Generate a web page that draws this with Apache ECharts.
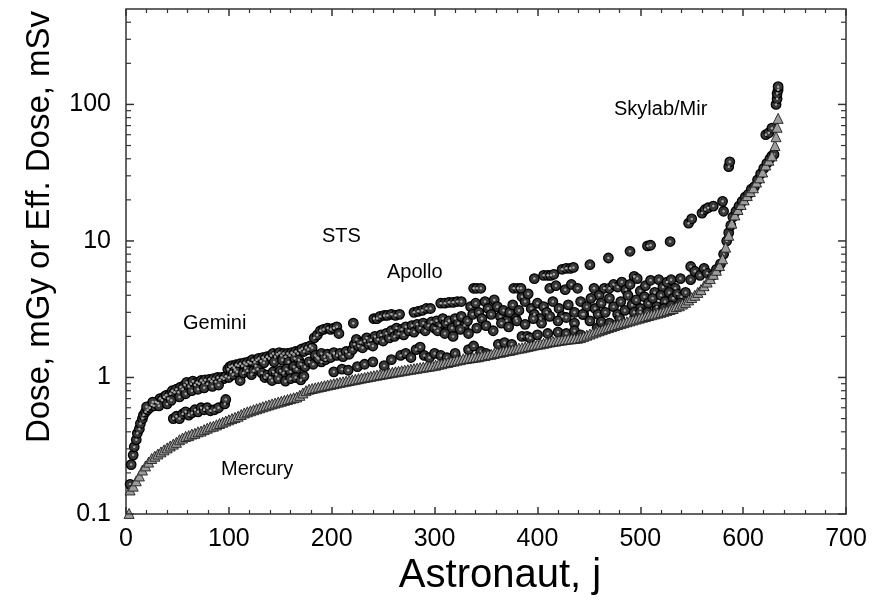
<!DOCTYPE html>
<html><head><meta charset="utf-8">
<script src="https://cdn.jsdelivr.net/npm/echarts@6/dist/echarts.min.js"></script>
<style>html,body{margin:0;padding:0;background:#fff}#c{width:872px;height:603px}</style>
</head><body><div id="c"></div>
<script>
// ---- data (astronaut index j, dose) ----
const effectiveDose = [[3,0.101],[4,0.15],[7,0.16],[10,0.175],[13,0.19],[16,0.21],[19,0.225],[22,0.24],[25,0.255],[28,0.265],[31,0.275],[34,0.285],[37,0.295],[40,0.305],[43,0.315],[46,0.325],[49,0.335],[52,0.35],[55,0.36],[58,0.37],[61,0.375],[64,0.385],[67,0.39],[70,0.40],[73,0.405],[76,0.415],[79,0.425],[82,0.435],[85,0.44],[88,0.45],[91,0.46],[94,0.47],[97,0.48],[100,0.49],[103,0.50],[106,0.51],[109,0.52],[112,0.535],[115,0.55],[118,0.56],[121,0.57],[124,0.58],[127,0.59],[130,0.60],[133,0.61],[136,0.62],[139,0.63],[142,0.64],[145,0.65],[148,0.66],[151,0.67],[154,0.68],[157,0.69],[160,0.70],[163,0.71],[166,0.72],[169,0.74],[172,0.77],[175,0.80],[178,0.82],[181,0.83],[184,0.84],[187,0.85],[190,0.86],[193,0.87],[196,0.88],[199,0.89],[202,0.90],[205,0.91],[208,0.92],[211,0.93],[214,0.94],[217,0.95],[220,0.96],[223,0.97],[226,0.98],[229,0.99],[232,1.0],[235,1.01],[238,1.02],[241,1.03],[244,1.04],[247,1.05],[250,1.06],[253,1.07],[256,1.08],[259,1.09],[262,1.10],[265,1.11],[268,1.12],[271,1.13],[274,1.14],[277,1.15],[280,1.16],[283,1.17],[286,1.18],[289,1.19],[292,1.20],[295,1.21],[298,1.22],[301,1.23],[304,1.25],[307,1.26],[310,1.28],[313,1.29],[316,1.31],[319,1.32],[322,1.34],[325,1.35],[328,1.37],[331,1.38],[334,1.39],[337,1.40],[340,1.41],[343,1.42],[346,1.44],[349,1.45],[352,1.47],[355,1.48],[358,1.50],[361,1.52],[364,1.53],[367,1.55],[370,1.57],[373,1.58],[376,1.60],[379,1.62],[382,1.64],[385,1.65],[388,1.67],[391,1.69],[394,1.71],[397,1.73],[400,1.75],[403,1.76],[406,1.78],[409,1.80],[412,1.82],[415,1.84],[418,1.85],[421,1.87],[424,1.88],[427,1.90],[430,1.91],[433,1.92],[436,1.93],[439,1.94],[442,1.96],[445,2.0],[448,2.04],[451,2.08],[454,2.12],[457,2.16],[460,2.2],[463,2.24],[466,2.28],[469,2.32],[472,2.36],[475,2.4],[478,2.44],[481,2.48],[484,2.52],[487,2.56],[490,2.6],[493,2.64],[496,2.68],[499,2.72],[502,2.76],[505,2.8],[508,2.84],[511,2.88],[514,2.92],[517,2.96],[520,3.0],[523,3.05],[526,3.1],[529,3.15],[532,3.2],[535,3.3],[538,3.35],[541,3.45],[544,3.55],[547,3.7],[550,3.85],[553,4.0],[556,4.2],[559,4.4],[562,4.7],[565,5.0],[568,5.3],[571,5.7],[574,6.1],[577,6.6],[580,7.4],[583,9.0],[586,11],[589,13.5],[592,15.5],[595,17],[598,18.5],[601,20],[604,21.5],[607,23],[610,24.5],[613,27],[616,29],[619,32],[622,36],[625,39],[628,42],[631,50],[632,58],[633,68],[634,79]];

const doseEarly = [[4,0.165],[5,0.23],[7,0.27],[8,0.31],[10,0.35],[11,0.39],[13,0.42],[14,0.46],[16,0.5],[17,0.53],[19,0.56],[21,0.58],[23,0.6],[25,0.63],[27,0.62],[29,0.66],[31,0.65],[33,0.7],[35,0.68],[37,0.72],[39,0.74],[41,0.7],[43,0.76],[45,0.8],[47,0.78],[49,0.82],[51,0.78],[53,0.85],[55,0.82],[57,0.88],[59,0.92],[61,0.86],[63,0.9],[65,0.94],[67,0.88],[69,0.92],[71,0.9],[73,0.95],[75,0.92],[77,0.96],[79,0.9],[81,0.97],[83,0.94],[85,0.98],[87,0.93],[89,1.0],[91,0.96],[93,1.0],[95,0.98],[97,1.02],
[20,0.61],[26,0.66],[32,0.62],[40,0.64],[44,0.68],[52,0.72],[58,0.76],[64,0.8],[70,0.82],[76,0.84],[84,0.86],[90,0.88],
[46,0.5],[49,0.52],[52,0.5],[55,0.54],[58,0.56],[61,0.53],[64,0.55],[67,0.58],[70,0.56],[73,0.6],[76,0.58],[79,0.6],[82,0.57],[86,0.58],[90,0.6],[96,0.64],[97,0.69]];

const doseMid1 = [[99,1.15],[101,1.2],[103,1.22],[105,1.18],[107,1.24],[109,1.22],[111,1.26],[113,1.22],[115,1.28],[117,1.25],[119,1.3],[121,1.27],[123,1.35],[125,1.3],[127,1.34],[129,1.38],[131,1.32],[133,1.4],[135,1.36],[137,1.42],[139,1.38],[141,1.45],[143,1.5],[145,1.42],[147,1.48],[149,1.52],[151,1.45],[153,1.5],[155,1.42],[157,1.5],[159,1.45],[161,1.52],[163,1.48],[165,1.55],[167,1.5],[169,1.58],[171,1.62],[173,1.55],[175,1.66],[177,1.6],[179,1.7],[181,1.65],
[102,1.1],[106,1.14],[116,1.18],[126,1.22],[134,1.28],[144,1.3],[152,1.34],[158,1.3],[164,1.38],[168,1.34],
[100,1.0],[104,1.05],[108,1.1],[111,0.95],[114,1.08],[118,1.12],[122,1.05],[124,1.12],[128,1.15],[132,1.08],[135,1.0],[137,1.04],[140,1.0],[143,1.1],[146,1.05],[150,1.12],[153,1.08],[156,1.15],[160,1.1],[163,1.2],[166,1.15],[170,1.25],[174,1.2],[178,1.3],[182,1.25],[186,1.4],[190,1.3],[194,1.35],[198,1.45],[202,1.5],
[142,0.95],[148,0.98],[155,0.94],[160,0.98],[165,1.0],[170,0.96],[173,1.02],
[184,1.45],[187,1.38],[190,1.5],[193,1.42],[196,1.48],[199,1.4],[202,1.52],[205,1.45],[208,1.5],[211,1.42],[214,1.55],[217,1.48],[220,1.6],[222,1.75],[224,1.9],[226,1.7],[228,1.8],[230,1.65],[232,1.85],[234,1.95],[236,1.75],[238,1.88],[240,1.7],[242,2.0],[245,1.9],[248,2.05],[250,1.85],[253,2.1],[256,1.95],[258,2.2],[261,2.0],[263,2.3],[265,2.1],[268,2.25],[270,2.05],[272,2.35],[275,2.2],[278,2.4],[280,2.15],[283,2.45],[286,2.3],[289,2.5],[291,2.2],[294,2.4],[297,2.55],[300,2.3],
[202,1.1],[210,1.15],[216,1.13],[225,1.2],[232,1.25],[240,1.3],[251,1.22],[258,1.35],[267,1.45],[272,1.5],[277,1.4],[282,1.6],[286,1.67],[290,1.45],[295,1.4],[300,1.5]];

const doseMid2 = [[302,2.6],[305,2.4],[308,2.7],[311,2.5],[314,2.6],[317,2.3],[320,2.7],[323,2.5],[326,2.8],[329,2.4],[332,2.6],[335,3.3],[337,2.9],[340,3.5],[343,3.0],[346,2.7],[349,3.6],[352,3.2],[355,2.9],[358,3.7],[361,3.3],[364,2.8],[367,3.1],[370,2.6],[373,3.0],[376,3.4],[379,2.7],[382,3.1],[385,3.9],[388,3.6],[391,4.1],[394,3.2],[397,2.9],[400,3.5],[403,2.7],[406,3.3],[409,3.0],[412,4.5],[415,3.6],[418,4.7],[421,3.2],[424,2.8],[427,4.4],[430,3.4],[433,4.8],[436,3.0],[439,4.5],[442,3.6],[445,2.9],[448,3.3],[451,2.6],
[303,2.2],[310,2.1],[318,2.0],[325,2.25],[333,2.1],[341,2.3],[350,2.4],[357,2.2],[365,2.5],[372,2.35],[380,2.6],[388,2.45],[396,2.7],[404,2.5],[412,2.8],[420,2.6],[428,2.75],[436,2.5],[444,2.9],
[306,1.45],[312,1.4],[320,1.5],[333,1.6],[338,1.7],[345,1.55],[350,1.5],[362,1.75],[368,1.8],[375,1.75],[385,2.0],[390,2.0],[393,1.95],[400,2.05],[410,2.1],[420,2.15],[428,2.1],[436,2.2],[442,2.05]];

const doseLate = [[455,4.5],[460,4.0],[465,4.5],[470,4.5],[474,4.8],[478,4.6],[482,5.0],[486,4.4],[490,4.8],[494,5.5],[497,5.3],[500,4.3],[505,4.7],[510,5.15],[514,4.2],[518,5.2],[522,4.6],[526,5.0],[530,5.2],[534,4.5],[539,5.3],[549,6.5],[549,5.2],[553,6.0],[558,5.6],[562,6.3],[565,5.8],
[452,3.8],[456,3.2],[459,2.9],[462,3.5],[466,3.0],[470,3.8],[474,3.3],[478,2.9],[481,3.6],[485,3.1],[488,4.0],[492,3.4],[496,3.7],[500,3.2],[504,3.9],[508,3.5],[512,3.8],[516,3.3],[520,4.0],[524,3.6],[528,4.2],[532,3.8],[536,4.1],[540,3.9],[544,4.2],
[458,2.3],[462,2.55],[470,2.5],[480,2.7],[494,3.0],[500,3.0],[507,3.0],[516,3.1],[523,3.2],[530,3.35],[539,3.5]];

const doseUpper = [[183,1.95],[186,2.05],[189,2.2],[192,2.25],[196,2.3],[199,2.25],[202,2.3],[205,2.35],[207,2.1],[221,2.5],[241,2.7],[244,2.7],[247,2.8],[251,2.85],[254,2.85],[258,2.9],[262,2.85],[266,2.9],[280,3.0],[284,3.05],[288,3.1],[292,3.2],[296,3.2],
[306,3.5],[310,3.5],[314,3.55],[318,3.55],[322,3.6],[326,3.6],[338,4.5],[341,4.5],[345,4.5],[377,4.5],[381,4.5],[384,4.5],[397,5.3],[406,5.6],[410,5.6],[413,5.6],[416,5.7],[424,6.2],[428,6.3],[432,6.3],[435,6.4],[451,6.7],[469,7.5],[490,8.4],[507,9.2],[510,9.3],[529,9.9],
[547,13.5],[550,14.5],[560,16],[563,17],[566,17.5],[571,18],[580,19.5],[581,16.5],[586,35],[587,38]];

const doseRise = [[570,5.6],[574,6.2],[578,6.8],[581,8],[584,10],[586,11.5],[588,13],[590,15],[593,16.5],[596,18],[599,19.5],[602,21],[605,22],[608,24],[611,25],[614,28],[617,31],[620,34],[623,37],[626,40],[628,42],[630,43],[622,60],[625,62],[628,67],[632,100],[633,110],[633,120],[634,128],[634,135]];

const xTicks = [0,100,200,300,400,500,600,700];
const yMajorTicks = [0.1,1,10,100];
const yMinorTicks = [0.2,0.3,0.4,0.5,0.6,0.7,0.8,0.9,2,3,4,5,6,7,8,9,20,30,40,50,60,70,80,90,200,300,400];
const annotations = [
  {text:'Skylab/Mir', x:614, y:109},
  {text:'STS', x:322, y:236},
  {text:'Apollo', x:387, y:272},
  {text:'Gemini', x:183, y:323},
  {text:'Mercury', x:221, y:469}
];

const FONT = '"Liberation Sans", Arial, Helvetica, sans-serif';
const doseCircles = [].concat(doseEarly, doseMid1, doseMid2, doseLate, doseUpper, doseRise);
const yTickRows = yMajorTicks.map(v => [0, v, 1]).concat(yMinorTicks.map(v => [0, v, 0]));

const chart = echarts.init(document.getElementById('c'), null, {renderer:'canvas'});
const tickStyle = {color:'#333', width:1.5};
chart.setOption({
  animation:false,
  backgroundColor:'#fff',
  grid:{left:126, right:26, top:9, bottom:89, show:true, borderColor:'#333', borderWidth:1.5, backgroundColor:'transparent'},
  xAxis:[{
    type:'value', min:xTicks[0], max:xTicks[xTicks.length-1], interval:100, position:'bottom',
    axisLine:{show:false}, splitLine:{show:false},
    axisTick:{show:true, inside:true, length:7, lineStyle:tickStyle},
    minorTick:{show:true, splitNumber:5, length:4, lineStyle:{color:'#333', width:1.2}},
    axisLabel:{fontSize:25, color:'#000', margin:13, fontFamily:FONT}
  },{
    type:'value', min:xTicks[0], max:xTicks[xTicks.length-1], interval:100, position:'top',
    axisLine:{show:false}, splitLine:{show:false},
    axisTick:{show:true, inside:true, length:7, lineStyle:tickStyle},
    minorTick:{show:true, splitNumber:5, length:4, lineStyle:{color:'#333', width:1.2}},
    axisLabel:{show:false}
  }],
  yAxis:{
    type:'log', logBase:10, min:0.1, max:500,
    axisLine:{show:false}, axisTick:{show:false}, splitLine:{show:false}, minorTick:{show:false},
    axisLabel:{fontSize:25, color:'#000', margin:15, fontFamily:FONT, showMaxLabel:false,
      formatter:function(v){
        for (const t of yMajorTicks) { if (Math.abs(v - t) / t < 1e-6) return String(t); }
        return '';
      }}
  },
  graphic:[
    {type:'text', x:40, y:227, rotation:Math.PI/2, style:{text:'Dose, mGy or Eff. Dose, mSv', font:'33px ' + FONT, fill:'#000', textAlign:'center', textVerticalAlign:'middle'}},
    {type:'text', x:500, y:576, style:{text:'Astronaut, j', font:'40px ' + FONT, fill:'#000', textAlign:'center', textVerticalAlign:'middle'}}
  ].concat(annotations.map(a => ({type:'text', x:a.x, y:a.y, style:{text:a.text, font:'20px ' + FONT, fill:'#000', textAlign:'left', textVerticalAlign:'middle'}}))),
  series:[
    {
      type:'custom', xAxisIndex:0, yAxisIndex:0, data:yTickRows, encode:{x:0, y:1}, clip:false, silent:true, z:5,
      renderItem:function(params, api){
        const v = api.value(1), major = api.value(2);
        const len = major ? 8 : 5;
        const pL = api.coord([0, v]);
        const pR = api.coord([700, v]);
        const st = {stroke:'#333', lineWidth: major ? 1.5 : 1.2};
        return {type:'group', children:[
          {type:'line', shape:{x1:pL[0], y1:pL[1], x2:pL[0]+len, y2:pL[1]}, style:st},
          {type:'line', shape:{x1:pR[0]-len, y1:pR[1], x2:pR[0], y2:pR[1]}, style:st}
        ]};
      }
    },
    {
      type:'scatter', name:'Dose', data:doseCircles, symbol:'circle', symbolSize:9.5, z:2,
      itemStyle:{color:'#383838', borderColor:'#000', borderWidth:1.3, opacity:1}, silent:true
    },
    {
      type:'scatter', name:'DoseCentre', data:doseCircles, symbol:'circle', symbolSize:2.5, z:3,
      itemStyle:{color:'#a8a8a8', opacity:1}, silent:true
    },
    {
      type:'scatter', name:'Effective dose', data:effectiveDose, symbol:'triangle', symbolSize:10, z:4,
      itemStyle:{color:'#9c9c9c', borderColor:'#1e1e1e', borderWidth:0.9, opacity:1}, silent:true
    }
  ]
});
</script></body></html>
